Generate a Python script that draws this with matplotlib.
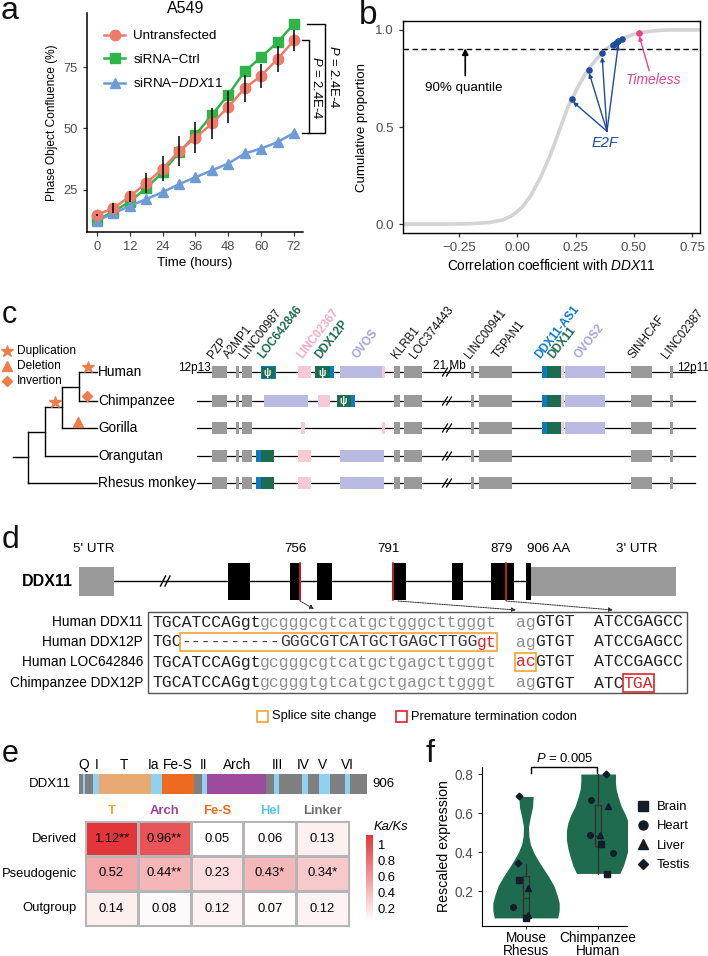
import numpy as np
import matplotlib.pyplot as plt
from matplotlib.patches import Rectangle
from matplotlib.lines import Line2D
from matplotlib.colors import LinearSegmentedColormap

plt.rcParams['font.family'] = ['Liberation Sans', 'DejaVu Sans']
plt.rcParams['mathtext.fontset'] = 'custom'
plt.rcParams['mathtext.rm'] = 'Liberation Sans'
plt.rcParams['mathtext.it'] = 'Liberation Sans:italic'
plt.rcParams['mathtext.bf'] = 'Liberation Sans:bold'

W, H = 708, 956

# ---------------- data ----------------
# panel a
hours = [0, 6, 12, 18, 24, 30, 36, 42, 48, 54, 60, 66, 72]
untransfected = [14.8, 17.5, 22.3, 27.7, 33.6, 40.7, 46.2, 52.0, 58.7, 66.4, 71.4, 78.3, 85.8]
untransfected_err = [0.5, 2.0, 2.2, 4.1, 5.1, 6.0, 6.4, 6.4, 6.7, 5.5, 5.0, 5.3, 4.1]
sirna_ctrl = [12.7, 16.1, 20.2, 25.7, 32.1, 40.3, 47.3, 55.5, 63.7, 73.2, 79.0, 85.1, 92.6]
sirna_ddx11 = [12.4, 15.4, 18.4, 21.2, 24.0, 27.3, 30.1, 32.9, 35.7, 39.8, 41.8, 44.4, 48.2]

# panel b
cdf_x = [-0.49, -0.30, -0.20, -0.12, -0.06, -0.02, 0.02, 0.06, 0.10, 0.14, 0.18,
         0.22, 0.26, 0.30, 0.34, 0.38, 0.42, 0.46, 0.50, 0.55, 0.60, 0.66, 0.78]
cdf_y = [0.000, 0.000, 0.002, 0.008, 0.022, 0.045, 0.085, 0.15, 0.24, 0.35, 0.48,
         0.61, 0.705, 0.79, 0.85, 0.90, 0.935, 0.96, 0.978, 0.99, 0.997, 1.0, 1.0]
e2f_x = [0.235, 0.307, 0.364, 0.410, 0.422, 0.434, 0.450]
e2f_y = [0.646, 0.796, 0.880, 0.923, 0.932, 0.942, 0.952]
timeless_x, timeless_y = 0.522, 0.985

# panel c
species = ['Human', 'Chimpanzee', 'Gorilla', 'Orangutan', 'Rhesus monkey']
gene_labels = ['PZP', 'A2MP1', 'LINC00987', 'LOC642846', 'LINC02367', 'DDX12P', 'OVOS',
               'KLRB1', 'LOC374443', 'LINC00941', 'TSPAN1', 'DDX11-AS1', 'DDX11', 'OVOS2',
               'SINHCAF', 'LINC02387']
gene_label_kind = ['k', 'k', 'k', 'green', 'pink', 'green', 'lav', 'k', 'k', 'k', 'k',
                   'blue', 'green', 'lav', 'k', 'k']
left_genes = [(212, 227, 'grey'), (236, 239, 'grey'), (242, 252, 'grey')]
mid_genes = [(394, 400, 'grey'), (404, 422, 'grey'), (471, 474, 'grey'), (479, 512, 'grey')]
ddx11_locus = [(542, 547, 'blue'), (547, 561, 'green'), (561, 564, 'pink'), (565, 605, 'lav')]
right_genes = [(631, 652, 'grey'), (670, 673, 'grey')]
tracks = [
    left_genes + [(261, 275, 'psi'), (298, 311, 'pink'), (315, 330, 'psi'), (330, 334, 'blue'),
                  (340, 382, 'lav'), (382, 385, 'pink')] + mid_genes + ddx11_locus + right_genes,
    left_genes + [(264, 308, 'lav'), (318, 330, 'pink'), (337, 351, 'psi'), (351, 355, 'blue')]
    + mid_genes + ddx11_locus + right_genes,
    left_genes + [(301, 305, 'pink'), (382, 385, 'pink')] + mid_genes + ddx11_locus + right_genes,
    left_genes + [(256, 261, 'blue'), (261, 274, 'green'), (298, 311, 'pink'), (340, 384, 'lav')]
    + mid_genes + right_genes,
    left_genes + [(256, 261, 'blue'), (261, 274, 'green'), (298, 311, 'pink'), (340, 384, 'lav')]
    + mid_genes + right_genes,
]

# panel d
exons = [(228, 250), (290, 301), (317, 332), (392, 406), (452, 463), (491, 514), (526, 531)]
stop_sites = [300, 393, 506]
stop_labels = ['756', '791', '879']
seq_names = ['Human DDX11', 'Human DDX12P', 'Human LOC642846', 'Chimpanzee DDX12P']
seq_rows = [
    [('TGCATCCAGgt', 'k'), ('gcgggcgtcatgctgggcttgggt', 'g'), ('  ', 'k'), ('ag', 'g'),
     ('GTGT', 'k'), ('  ', 'k'), ('ATCCGAGCC', 'k')],
    [('TGC', 'k'), ('----------', 'd'), ('GGGCGTCATGCTGAGCTTGG', 'd'), ('gt', 'r'), ('  ', 'k'),
     ('ag', 'g'), ('GTGT', 'k'), ('  ', 'k'), ('ATCCGAGCC', 'k')],
    [('TGCATCCAGgt', 'k'), ('gcgggcgtcatgctgagcttgggt', 'g'), ('  ', 'k'), ('ac', 'r'),
     ('GTGT', 'k'), ('  ', 'k'), ('ATCCGAGCC', 'k')],
    [('TGCATCCAGgt', 'k'), ('gcgggtgtcatgctgagcttgggt', 'g'), ('  ', 'k'), ('ag', 'g'),
     ('GTGT', 'k'), ('  ', 'k'), ('ATC', 'k'), ('TGA', 'r')],
]
# (row, first char, last char, kind)
seq_boxes = [(1, 3, 35, 'splice'), (2, 37, 39, 'splice'), (3, 48, 51, 'stop')]

# panel e
domain_bounds = [0, 12, 20, 44, 63, 227, 261, 362, 387, 403, 588, 613, 629, 702, 720, 755,
                 790, 837, 853, 906]
domain_kind = ['grey', 'blue', 'grey', 'blue', 'tan', 'blue', 'fes', 'grey', 'blue', 'arch',
               'grey', 'blue', 'grey', 'blue', 'grey', 'blue', 'grey', 'blue', 'grey']
motif_names = ['Q', 'I', 'T', 'Ia', 'Fe-S', 'II', 'Arch', 'III', 'IV', 'V', 'VI']
motif_aa = [16, 54, 140, 233, 310, 393, 497, 623, 705, 767, 843]
region_names = ['T', 'Arch', 'Fe-S', 'Hel', 'Linker']
lineages = ['Derived', 'Pseudogenic', 'Outgroup']
ka_ks = np.array([[1.12, 0.96, 0.05, 0.06, 0.13],
                  [0.52, 0.44, 0.23, 0.43, 0.34],
                  [0.14, 0.08, 0.12, 0.07, 0.12]])
ka_ks_sig = [['**', '**', '', '', ''],
             ['', '**', '', '*', '*'],
             ['', '', '', '', '']]

# panel f
groups = ['Mouse\nRhesus', 'Chimpanzee\nHuman']
violin1_y = [0.062, 0.10, 0.139, 0.18, 0.224, 0.27, 0.31, 0.35, 0.395, 0.44, 0.48, 0.53, 0.58, 0.63, 0.685]
violin1_w = [0.44, 0.46, 0.46, 0.43, 0.39, 0.32, 0.25, 0.18, 0.11, 0.06, 0.04, 0.035, 0.06, 0.09, 0.10]
violin2_y = [0.29, 0.33, 0.378, 0.42, 0.463, 0.51, 0.549, 0.59, 0.634, 0.68, 0.72, 0.76, 0.80]
violin2_w = [0.30, 0.35, 0.39, 0.42, 0.44, 0.44, 0.42, 0.38, 0.32, 0.28, 0.25, 0.24, 0.24]
box_stats = [dict(med=0.164, q1=0.075, q3=0.275, whislo=0.058, whishi=0.34),
             dict(med=0.48, q1=0.43, q3=0.643, whislo=0.289, whishi=0.80)]
tissues = ['Brain', 'Heart', 'Liver', 'Testis']
tissue_marker = ['s', 'o', '^', 'D']
pts_group = [1, 1, 1, 1, 1, 1, 1, 1, 2, 2, 2, 2, 2, 2, 2, 2]
pts_dx = [-0.093, 0.0, -0.185, 0.023, 0.03, -0.116, -0.093, 0.01,
          0.046, 0.125, -0.106, 0.199, 0.130, 0.023, -0.093, 0.106]
pts_y = [0.255, 0.060, 0.116, 0.215, 0.078, 0.344, 0.685, 0.068,
         0.443, 0.289, 0.485, 0.395, 0.638, 0.485, 0.668, 0.80]
pts_tissue = [0, 0, 1, 2, 2, 3, 3, 3, 0, 0, 1, 1, 2, 2, 1, 3]

# ---------------- figure ----------------
fig = plt.figure(figsize=(W / 100, H / 100), dpi=100)


def box(x0, y0, x1, y1):
    return [x0 / W, 1 - y1 / H, (x1 - x0) / W, (y1 - y0) / H]


canvas = fig.add_axes([0, 0, 1, 1])
canvas.set_xlim(0, W)
canvas.set_ylim(H, 0)
canvas.axis('off')

grey_lab = '#4D4D4D'
for lab, x, y, fs in [('a', 1, 19, 23), ('b', 359, 24, 24), ('c', 2, 323, 22), ('d', 2, 548, 23),
                      ('e', 2, 762, 22), ('f', 426, 762, 23)]:
    canvas.text(x, y, lab, fontsize=fs, va='baseline', ha='left', color='#111111')

# ---- a ----
c_un, c_ctrl, c_kd = '#F07A6C', '#2FB44A', '#6D9BD6'
ax = fig.add_axes(box(87, 13, 303, 232))
ax.set_facecolor('none')
ax.plot(hours, untransfected, color=c_un, marker='o', ms=7.5, lw=1.8, mec=c_un, label='Untransfected', zorder=3)
ax.plot(hours, sirna_ctrl, color=c_ctrl, marker='s', ms=6.5, lw=1.8, mec=c_ctrl, label='siRNA\u2212Ctrl', zorder=2)
ax.plot(hours, sirna_ddx11, color=c_kd, marker='^', ms=7.5, lw=1.8, mec=c_kd,
        label='siRNA\u2212$\\mathit{DDX11}$', zorder=2)
ax.errorbar(hours, untransfected, yerr=untransfected_err, fmt='none', ecolor='black',
            elinewidth=1.1, capsize=0, zorder=4)
ax.set_xlim(-3.65, 75.3)
ax.set_ylim(7.8, 97)
ax.set_xticks([0, 12, 24, 36, 48, 60, 72])
ax.set_yticks([25, 50, 75])
for s in ['top', 'right']:
    ax.spines[s].set_visible(False)
for s in ['left', 'bottom']:
    ax.spines[s].set_linewidth(1.1)
ax.tick_params(labelsize=9.3, labelcolor=grey_lab, length=3, width=0.9, color='#333333')
ax.set_xlabel('Time (hours)', fontsize=9.6, labelpad=3)
ax.set_ylabel('Phase Object Confluence (%)', fontsize=8.6, labelpad=4)
ax.legend(loc='upper left', bbox_to_anchor=(100 / W, 1 - 26 / H), bbox_transform=fig.transFigure,
          frameon=False, fontsize=9.6, handlelength=1.6, handletextpad=0.6, labelspacing=0.85,
          borderpad=0.3, borderaxespad=0)
canvas.text(186, 8, 'A549', fontsize=11.5, ha='center', va='center')
# significance brackets
y_top_in, y_top_out, y_bot = untransfected[-1], sirna_ctrl[-1], sirna_ddx11[-1]
ax.plot([75.0, 77.6, 77.6, 75.0], [y_top_in, y_top_in, y_bot, y_bot], color='black', lw=1, clip_on=False)
ax.plot([76.8, 83.3, 83.3, 77.6], [y_top_out, y_top_out, y_bot, y_bot], color='black', lw=1, clip_on=False)
ax.text(80.3, (y_top_in + y_bot) / 2 - 0.5, '$P$ = 2.4E-4', rotation=270, fontsize=9.4,
        ha='center', va='center', clip_on=False)
ax.text(86.6, (y_top_out + y_bot) / 2 + 0.8, '$P$ = 2.4E-4', rotation=270, fontsize=9.4,
        ha='center', va='center', clip_on=False)

# ---- b ----
blue_b, pink_b = '#1F4B9C', '#E5418C'
bx = fig.add_axes(box(403, 21, 700, 233))
bx.set_facecolor('none')
bx.plot(cdf_x, cdf_y, color='#D3D3D3', lw=2.6, solid_capstyle='round', zorder=1)
bx.axhline(0.9, color='black', lw=1, ls=(0, (4, 2.5)), zorder=2)
bx.scatter(e2f_x, e2f_y, s=14, color=blue_b, zorder=4)
bx.scatter([timeless_x], [timeless_y], s=14, color=pink_b, zorder=4)
for i in [0, 1, 2, 5]:
    bx.annotate('', xy=(e2f_x[i], e2f_y[i] - 0.012), xytext=(0.385, 0.478),
                arrowprops=dict(arrowstyle='-|>', color=blue_b, lw=1, mutation_scale=6, shrinkA=0, shrinkB=1))
bx.text(0.377, 0.42, 'E2F', color=blue_b, style='italic', fontsize=10.5, ha='center', va='center')
bx.annotate('', xy=(timeless_x, timeless_y - 0.01), xytext=(0.566, 0.79),
            arrowprops=dict(arrowstyle='-|>', color=pink_b, lw=1, mutation_scale=6, shrinkA=0, shrinkB=1))
bx.text(0.583, 0.742, 'Timeless', color=pink_b, style='italic', fontsize=10, ha='center', va='center')
bx.annotate('', xy=(-0.223, 0.905), xytext=(-0.223, 0.765),
            arrowprops=dict(arrowstyle='-|>', color='black', lw=1.2, mutation_scale=9, shrinkA=0, shrinkB=0))
bx.text(-0.23, 0.70, '90% quantile', fontsize=9.6, ha='center', va='center')
bx.set_xlim(-0.49, 0.784)
bx.set_ylim(-0.046, 1.046)
bx.set_xticks([-0.25, 0, 0.25, 0.5, 0.75])
bx.set_xticklabels(['\u22120.25', '0.00', '0.25', '0.50', '0.75'])
bx.set_yticks([0, 0.5, 1.0])
bx.set_yticklabels(['0.0', '0.5', '1.0'])
for s in bx.spines.values():
    s.set_linewidth(1)
bx.tick_params(labelsize=9.6, labelcolor=grey_lab, length=3, width=0.9, color='#333333')
bx.set_xlabel('Correlation coefficient with $\\mathit{DDX11}$', fontsize=9.8, labelpad=3)
bx.set_ylabel('Cumulative proportion', fontsize=9.5, labelpad=5)

# ---- c ----
col = {'grey': '#9A9A9A', 'green': '#1D6B50', 'psi': '#1D6B50', 'blue': '#0B7BC4',
       'pink': '#F7C9D5', 'lav': '#B9BAE2', 'k': '#111111'}
lab_col = {'k': '#111111', 'green': '#1D6B50', 'pink': '#F4A9C6', 'lav': '#A6A3D9', 'blue': '#0B7BC4'}
orange = '#EE7D4A'
species_y = [372, 401, 428, 456, 483]
gene_label_x = [213, 229, 245, 263, 302, 320, 357, 397, 415, 470, 498, 540, 553, 580, 633, 667]

for y, segs in zip(species_y, tracks):
    canvas.plot([197, 695], [y, y], color='black', lw=0.9, zorder=2)
    for s, e, kind in segs:
        canvas.add_patch(Rectangle((s, y - 6), e - s, 12, fc=col[kind], ec='none', zorder=3))
        if kind == 'psi':
            canvas.text((s + e) / 2 - 0.5, y + 0.5, '\u03c8', color='white', fontsize=7,
                        fontweight='bold', ha='center', va='center', zorder=4)
    canvas.plot([442.5, 447.5], [y + 4, y - 4], color='black', lw=0.9, zorder=4)
    canvas.plot([446.5, 451.5], [y + 4, y - 4], color='black', lw=0.9, zorder=4)
# blue outline of human LOC642846
canvas.add_patch(Rectangle((261, species_y[0] - 6), 14, 12, fc='none', ec=col['blue'], lw=0.8, zorder=4))
canvas.text(178, species_y[0] - 1.5, '12p13', fontsize=8.5, ha='left', va='baseline')
canvas.text(677, species_y[0] - 1.5, '12p11', fontsize=8.5, ha='left', va='baseline')
canvas.text(449, species_y[0] - 3, '21 Mb', fontsize=8.5, ha='center', va='baseline')
for name, kind, x in zip(gene_labels, gene_label_kind, gene_label_x):
    canvas.text(x, 359, name, rotation=52, rotation_mode='anchor', ha='left', va='baseline',
                fontsize=8.4, color=lab_col[kind], fontweight='normal' if kind == 'k' else 'bold')

# tree
y0, y1, y2, y3, y4 = species_y
hc = (y0 + y1) / 2
hcg = (hc + y2) / 2
hcgo = (hcg + y3) / 2
root = (hcgo + y4) / 2
for xs, ys in [([79, 97], [y0, y0]), ([79, 97], [y1, y1]), ([79, 79], [y0, y1]),
               ([62, 79], [hc, hc]), ([62, 97], [y2, y2]), ([62, 62], [hc, y2]),
               ([45, 62], [hcg, hcg]), ([45, 97], [y3, y3]), ([45, 45], [hcg, y3]),
               ([28, 45], [hcgo, hcgo]), ([28, 97], [y4, y4]), ([28, 28], [hcgo, y4]),
               ([13, 28], [root, root])]:
    canvas.plot(xs, ys, color='black', lw=1)
for name, y in zip(species, species_y):
    canvas.text(98, y, name, fontsize=9.8, va='center', ha='left')
canvas.plot([88], [y0 - 5], marker='*', ms=9, color=orange, mec=orange)
canvas.plot([87], [y1 - 5], marker='D', ms=5.5, color=orange, mec=orange)
canvas.plot([55], [hc + 15], marker='*', ms=9, color=orange, mec=orange)
canvas.plot([78], [y2 - 6], marker='^', ms=6.5, color=orange, mec=orange)
for mk, ms, y, txt in [('*', 9, 351, 'Duplication'), ('^', 6.5, 366, 'Deletion'), ('D', 5.5, 381, 'Invertion')]:
    canvas.plot([7], [y], marker=mk, ms=ms, color=orange, mec=orange)
    canvas.text(17, y, txt, fontsize=8.6, va='center', ha='left')

# ---- d ----
gy = 581
canvas.plot([114, 531], [gy, gy], color='black', lw=1, zorder=1)
canvas.add_patch(Rectangle((79, 567), 35, 29, fc='#9A9A9A', ec='none', zorder=2))
canvas.add_patch(Rectangle((531, 567), 145, 29, fc='#9A9A9A', ec='none', zorder=2))
for s, e in exons:
    canvas.add_patch(Rectangle((s, 563), e - s, 37, fc='black', ec='none', zorder=2))
for x in stop_sites:
    canvas.plot([x, x], [563, 600], color='#E0232B', lw=1.2, zorder=3)
canvas.plot([160.5, 165.5], [gy + 5, gy - 5], color='black', lw=1, zorder=3)
canvas.plot([165, 170], [gy + 5, gy - 5], color='black', lw=1, zorder=3)
canvas.text(73, gy + 1, 'DDX11', fontsize=11.5, fontweight='bold', ha='right', va='center')
canvas.text(94, 549, "5' UTR", fontsize=9.6, ha='center', va='center')
canvas.text(637, 549, "3' UTR", fontsize=9.6, ha='center', va='center')
canvas.text(549, 549, '906 AA', fontsize=9.6, ha='center', va='center')
for x, lab in zip(stop_sites, stop_labels):
    canvas.text(x - 4, 549, lab, fontsize=9.6, ha='center', va='center')
for (xa, ya), (xb, yb) in [((300, 601), (314, 609)), ((398, 601), (516, 610)), ((506, 601), (613, 610))]:
    canvas.annotate('', xy=(xb, yb), xytext=(xa, ya),
                    arrowprops=dict(arrowstyle='-|>', color='#333333', lw=0.7, ls=(0, (1.5, 1)),
                                    mutation_scale=6, shrinkA=0, shrinkB=0))
# alignment
x0, cw = 152, 9.83
row_y = [622, 642, 662, 683]
seq_col = {'k': '#222222', 'g': '#8E8E8E', 'd': '#3A3A3A', 'r': '#E0232B'}
canvas.add_patch(Rectangle((148, 612), 539, 81, fc='none', ec='#555555', lw=1))
for name, y, segs in zip(seq_names, row_y, seq_rows):
    canvas.text(143, y, name, fontsize=9.8, ha='right', va='center')
    pos = 0
    for txt, c in segs:
        canvas.text(x0 + pos * cw, y, txt, fontsize=11.8, family='Liberation Mono',
                    color=seq_col[c], ha='left', va='center')
        pos += len(txt)
for r, a, b, kind in seq_boxes:
    ec = '#F0A531' if kind == 'splice' else '#E0232B'
    canvas.add_patch(Rectangle((x0 + a * cw - 1, row_y[r] - 9), (b - a) * cw + 2, 18,
                               fc='none', ec=ec, lw=1.2, zorder=4))
canvas.add_patch(Rectangle((257, 711), 11, 11, fc='none', ec='#F0A531', lw=1.2))
canvas.text(272, 716.5, 'Splice site change', fontsize=9.3, va='center', ha='left')
canvas.add_patch(Rectangle((396, 711), 11, 11, fc='none', ec='#E0232B', lw=1.2))
canvas.text(411, 716.5, 'Premature termination codon', fontsize=9.3, va='center', ha='left')

# ---- e ----
dcol = {'grey': '#7F7F7F', 'blue': '#8ED1F0', 'tan': '#E8AA72', 'fes': '#EE6A20', 'arch': '#9D4B9D'}
bar_x0, bar_x1 = 79, 367
scale = (bar_x1 - bar_x0) / 906
for a, b, kind in zip(domain_bounds[:-1], domain_bounds[1:], domain_kind):
    canvas.add_patch(Rectangle((bar_x0 + a * scale, 774), (b - a) * scale, 20, fc=dcol[kind], ec='none'))
for name, aa in zip(motif_names, motif_aa):
    canvas.text(bar_x0 + aa * scale, 765, name, fontsize=9.9, ha='center', va='center')
canvas.text(71, 784, 'DDX11', fontsize=9.5, ha='right', va='center')
canvas.text(372, 784, '906', fontsize=9.5, ha='left', va='center')

cmap = LinearSegmentedColormap.from_list('kaks', ['#FFFFFF', '#E4363A'])
ex = fig.add_axes(box(85, 821, 349, 926))
mesh = ex.pcolormesh(ka_ks, cmap=cmap, vmin=0.05, vmax=1.12, edgecolors='#B5B5B5', linewidth=1)
ex.set_xlim(0, 5)
ex.set_ylim(3, 0)
ex.set_xticks([])
ex.set_yticks([])
for s in ex.spines.values():
    s.set_color('#B5B5B5')
for i in range(3):
    ex.text(-0.15, i + 0.5, lineages[i], fontsize=9.4, ha='right', va='center')
    for j in range(5):
        ex.text(j + 0.5, i + 0.5, f'{ka_ks[i, j]:.2f}{ka_ks_sig[i][j]}', fontsize=9.4,
                ha='center', va='center')
region_col = ['#EFA52C', '#9D3F9D', '#EE6A20', '#5BC2EA', '#6E6E6E']
for j, (name, c) in enumerate(zip(region_names, region_col)):
    ex.text(j + 0.5, -0.28, name, fontsize=9.4, fontweight='bold', color=c, ha='center', va='center')
cax = fig.add_axes(box(366, 835, 373, 921))
cb = fig.colorbar(mesh, cax=cax)
cb.outline.set_visible(False)
cb.set_ticks([0.2, 0.4, 0.6, 0.8, 1.0])
cb.set_ticklabels(['0.2', '0.4', '0.6', '0.8', '1'])
cax.tick_params(length=0, labelsize=9.4, pad=3)
canvas.text(374, 827, 'Ka/Ks', fontsize=9.4, style='italic', ha='left', va='center')

# ---- f ----
vcol = '#1E6B4F'
box_c = '#333333'
fx = fig.add_axes(box(482, 767, 627, 926))
fx.set_facecolor('none')
fx.fill_betweenx(violin1_y, 1 - np.array(violin1_w), 1 + np.array(violin1_w), color=vcol, lw=0, zorder=1)
fx.fill_betweenx(violin2_y, 2 - np.array(violin2_w), 2 + np.array(violin2_w), color=vcol, lw=0, zorder=1)
fx.bxp(box_stats, positions=[1, 2], widths=0.09, showfliers=False, showcaps=False,
       boxprops=dict(color=box_c, lw=1), whiskerprops=dict(color=box_c, lw=1),
       medianprops=dict(color=box_c, lw=1), manage_ticks=False, zorder=2)
for g, dx, y, t in zip(pts_group, pts_dx, pts_y, pts_tissue):
    fx.plot([g + dx], [y], marker=tissue_marker[t], ms=4 if tissue_marker[t] != 'D' else 3.4,
            color='#141C28', mec='#141C28', zorder=3, ls='none')
fx.set_xlim(0.39, 2.40)
fx.set_ylim(0.0205, 0.836)
fx.set_xticks([1, 2])
fx.set_xticklabels(groups, fontsize=9.8, linespacing=0.9)
fx.set_yticks([0.2, 0.4, 0.6, 0.8])
fx.tick_params(axis='y', labelsize=9.8, labelcolor=grey_lab, length=3, color='#333333')
fx.tick_params(axis='x', length=2.5, color='#333333', pad=1)
for s in ['top', 'right']:
    fx.spines[s].set_visible(False)
fx.set_ylabel('Rescaled expression', fontsize=10.2, labelpad=2)
fx.plot([1.07, 1.07, 1.99, 1.99], [0.805, 0.836, 0.836, 0.805], color='black', lw=1, clip_on=False)
fx.text(1.53, 0.88, '$P$ = 0.005', fontsize=9.4, ha='center', va='center', clip_on=False)
handles = [Line2D([], [], ls='none', marker=m, ms=6.5 if m != 'D' else 5, color='#141C28') for m in tissue_marker]
fig.legend(handles, tissues, loc='upper left', bbox_to_anchor=(636 / W, 1 - 801 / H),
           frameon=False, fontsize=9.4, handlelength=1.0, handletextpad=0.6, labelspacing=0.55,
           borderpad=0, borderaxespad=0)

fig.savefig('out.png', dpi=100)
